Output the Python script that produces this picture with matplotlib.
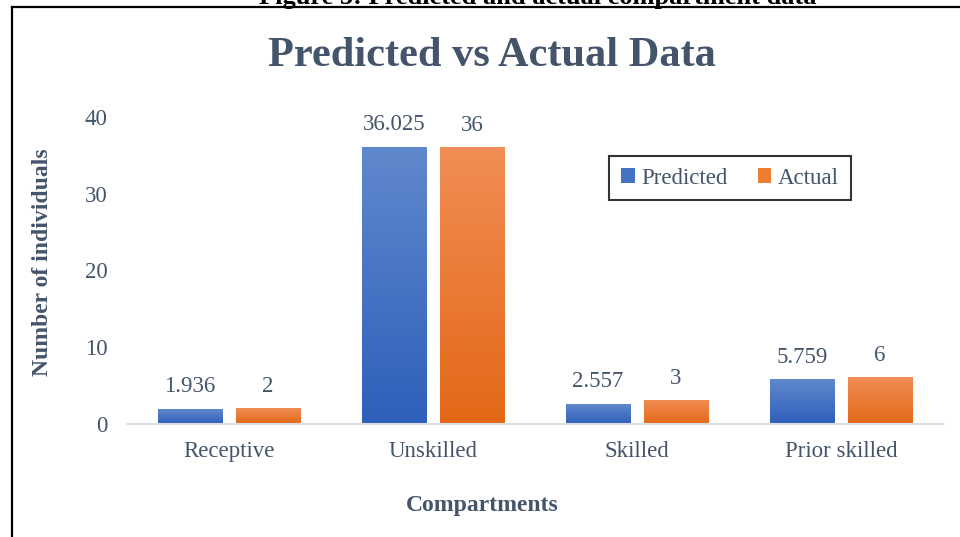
import numpy as np
import matplotlib
matplotlib.use("Agg")
import matplotlib.pyplot as plt
from matplotlib.colors import LinearSegmentedColormap
from matplotlib.lines import Line2D
from matplotlib.patches import Patch

# Data
categories = ["Receptive", "Unskilled", "Skilled", "Prior skilled"]
predicted = [1.936, 36.025, 2.557, 5.759]
actual = [2, 36, 3, 6]
predicted_labels = ["1.936", "36.025", "2.557", "5.759"]
actual_labels = ["2", "36", "3", "6"]

TEXT = "#44546a"
SERIF = "Liberation Serif"
plt.rcParams["font.family"] = [SERIF, "DejaVu Serif"]

blue_cmap = LinearSegmentedColormap.from_list("blue", ["#2e5fba", "#6088cc"])
orange_cmap = LinearSegmentedColormap.from_list("orange", ["#e26816", "#f28d55"])

fig = plt.figure(figsize=(9.6, 5.37), dpi=100)
ax = fig.add_axes([127 / 960, 1 - 424 / 537, 816 / 960, 307 / 537])

x = np.arange(len(categories))
width = 0.314
offset = 0.191

bars_p = ax.bar(x - offset, predicted, width, color="none", label="Predicted")
bars_a = ax.bar(x + offset, actual, width, color="none", label="Actual")

# vertical gradient fill, light at top, dark at bottom
grad = np.linspace(0, 1, 256).reshape(-1, 1)
for bars, cmap in ((bars_p, blue_cmap), (bars_a, orange_cmap)):
    for b in bars:
        x0, y0 = b.get_x(), b.get_y()
        ax.imshow(grad, cmap=cmap, origin="lower", aspect="auto",
                  extent=(x0, x0 + b.get_width(), y0, y0 + b.get_height()),
                  zorder=2)

for bars, labels in ((bars_p, predicted_labels), (bars_a, actual_labels)):
    for b, lab in zip(bars, labels):
        ax.annotate(lab, (b.get_x() + b.get_width() / 2, b.get_height()),
                    xytext=(0, 16.3), textcoords="offset points",
                    ha="center", va="center", fontsize=16.5, color=TEXT,
                    annotation_clip=False)

ax.set_xlim(-0.5, len(categories) - 0.5)
ax.set_ylim(0, 40)
ax.set_yticks([0, 10, 20, 30, 40])
ax.set_xticks(x)
ax.set_xticklabels(categories)
ax.tick_params(axis="y", length=0, pad=14, labelsize=16.5, labelcolor=TEXT)
ax.tick_params(axis="x", length=0, pad=12, labelsize=16.5, labelcolor=TEXT)

for side in ("top", "right", "left"):
    ax.spines[side].set_visible(False)
ax.spines["bottom"].set_color("#d9dde4")
ax.spines["bottom"].set_linewidth(1.5)

ax.set_ylabel("Number of individuals", fontsize=17, fontweight="bold",
              color=TEXT)
ax.yaxis.set_label_coords((43 - 127) / 816, (424 - 262) / 307)
ax.set_xlabel("Compartments", fontsize=17, fontweight="bold", color=TEXT)
ax.xaxis.set_label_coords((482 - 127) / 816, (424 - 506) / 307)
ax.xaxis.label.set_va("center")
ax.yaxis.label.set_va("center")

fig.text(492 / 960, 1 - 56 / 537, "Predicted vs Actual Data", ha="center",
         va="center", fontsize=30.5, fontweight="bold", color=TEXT)

handles = [Patch(facecolor="#4472c4", edgecolor="none"),
           Patch(facecolor="#ed7d31", edgecolor="none")]
leg = ax.legend(handles, ["Predicted", "Actual"], loc="center",
                bbox_to_anchor=((730 - 127) / 816, (424 - 178) / 307),
                ncol=2, fontsize=16.5, frameon=True, fancybox=False,
                handlelength=0.6, handleheight=0.6, handletextpad=0.3,
                columnspacing=1.3, borderpad=0.5, borderaxespad=0,
                labelcolor=TEXT)
leg.get_frame().set_edgecolor("black")
leg.get_frame().set_linewidth(1.5)

# caption cut off at the top edge, and the surrounding frame
fig.text(538 / 960, 1 - 4 / 537, "Figure 5: Predicted and actual compartment data",
         ha="center", va="baseline", fontsize=19, fontweight="bold",
         color="black")
fig.add_artist(Line2D([12 / 960, 12 / 960], [0, 1 - 7 / 537],
                      transform=fig.transFigure, color="black", lw=1.6))
fig.add_artist(Line2D([12 / 960, 1], [1 - 7 / 537, 1 - 7 / 537],
                      transform=fig.transFigure, color="black", lw=1.6))

fig.savefig("out.png", dpi=100)
